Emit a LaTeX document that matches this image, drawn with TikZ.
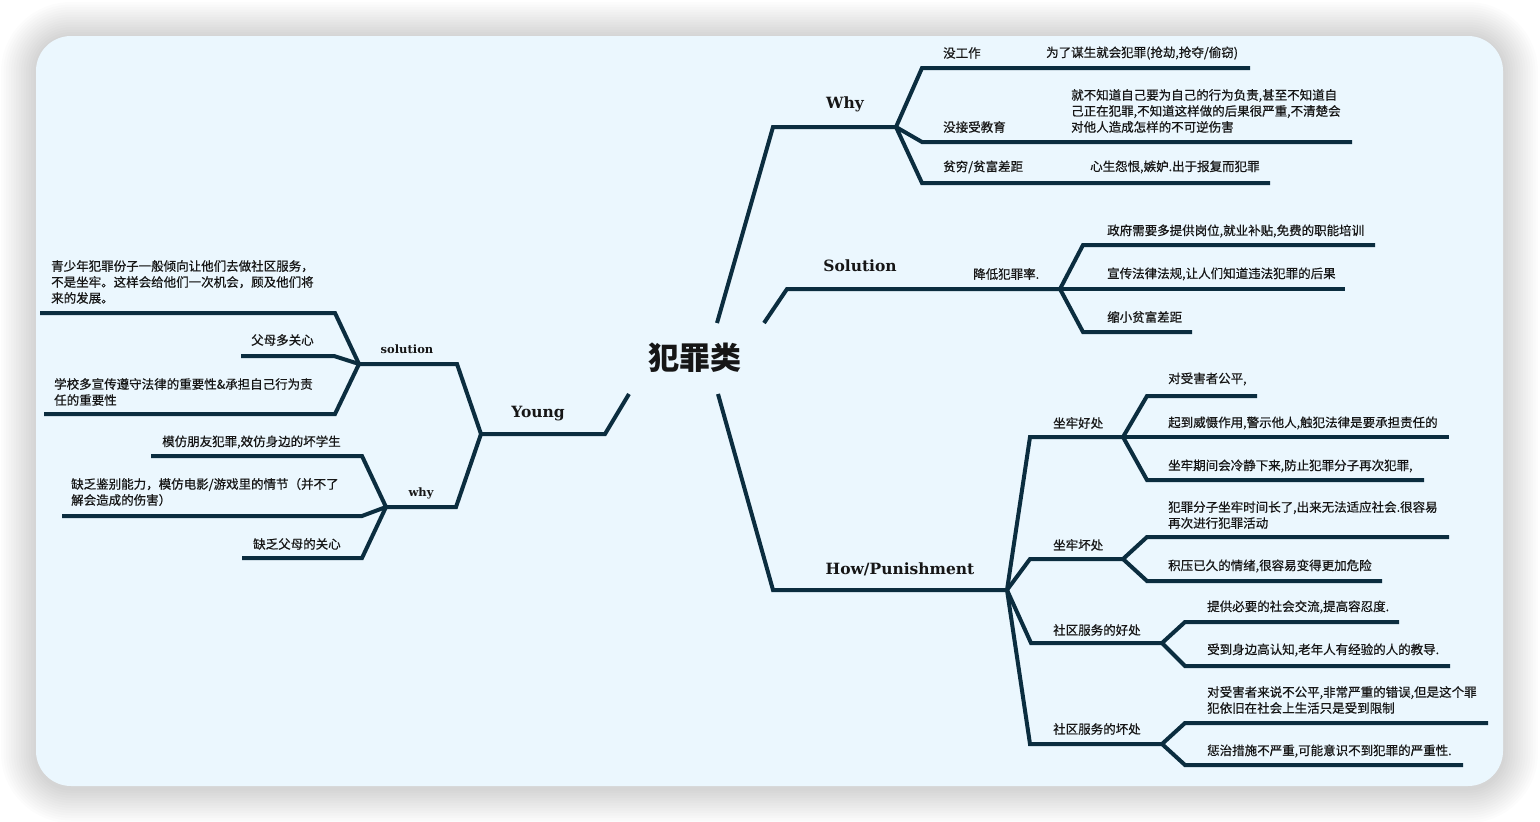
\documentclass[tikz,border=0pt]{standalone}
\usepackage{fontspec}
\newfontfamily\cjk{Noto Sans CJK SC}
\newfontfamily\cjkleaf{Noto Sans CJK SC}[FakeBold=0.6]
\newfontfamily\slab{DejaVu Serif}
\definecolor{inkline}{HTML}{0B2D3F}
\definecolor{inktext}{HTML}{161616}
\definecolor{cardbg}{HTML}{EBF7FE}

\begin{document}
\begin{tikzpicture}[x=1pt, y=-1pt,
	 branch/.style={draw=inkline, line width=4pt},
	 leaf/.style={anchor=west, align=left, inner sep=0pt, text=inktext,
	   font=\cjkleaf\fontsize{12.5}{16}\selectfont},
	 topic/.style={inner sep=0pt, text=inktext, font=\slab\bfseries\fontsize{15.5}{17}\selectfont},
	 subtopic/.style={inner sep=0pt, text=inktext, font=\slab\bfseries\fontsize{11.5}{14}\selectfont}]
	    \useasboundingbox (0,0) rectangle (1540,822);
	    \fill[white] (0,0) rectangle (1540,822);
	    \foreach \s in {1,...,14}
	        \fill[black, opacity=0.013, rounded corners=35+\s*2.5] (36-\s*2.5,37-\s*2.5) rectangle (1503+\s*2.5,788+\s*2.5);
	    \fill[cardbg, rounded corners=35] (36,36) rectangle (1503,786);

	    \node (crime) at (695,358) [inner sep=0pt, text=inktext, font=\cjk\bfseries\fontsize{31}{31}\selectfont] {犯罪类};

	    \coordinate (why-root) at (717,323);
	    \coordinate (sol-root) at (764,323);
	    \coordinate (how-root) at (718,394);
	    \coordinate (young-root) at (629,394);
	    \coordinate (why-j) at (896,127);
	    \coordinate (sol-j) at (1060,289);
	    \coordinate (how-j) at (1007,590);
	    \coordinate (young-j) at (481,434);
	    \draw[branch] (why-root) -- ++(56,-196) -- (why-j);
	    \draw[branch] (sol-root) -- ++(23,-34) -- (sol-j);
	    \draw[branch] (how-root) -- ++(55,196) -- (how-j);
	    \draw[branch] (young-root) -- ++(-24,40) -- (young-j);

	    \node (why) at (845,104) [topic] {Why};
	    \coordinate (nowork-end) at (1250,68);
	    \coordinate (noedu-end) at (1352,142);
	    \coordinate (poor-end) at (1270,183);
	    \draw[branch] (why-j) -- ++(26,-59) -- (nowork-end);
	    \draw[branch] (why-j) -- ++(26,15) -- (noedu-end);
	    \draw[branch] (why-j) -- ++(26,56) -- (poor-end);
	    \node (nowork) at (943,53) [leaf] {没工作};
	    \node (nowork-txt) at (1046,53) [leaf] {为了谋生就会犯罪(抢劫,抢夺/偷窃)};
	    \node (noedu) at (943,127) [leaf] {没接受教育};
	    \node (noedu-txt) at (1071,111) [leaf] {就不知道自己要为自己的行为负责,甚至不知道自\\己正在犯罪,不知道这样做的后果很严重,不清楚会\\对他人造成怎样的不可逆伤害};
	    \node (poor) at (943,167) [leaf] {贫穷/贫富差距};
	    \node (poor-txt) at (1090,167) [leaf] {心生怨恨,嫉妒.出于报复而犯罪};

	    \node (sol) at (860,266) [topic] {Solution};
	    \node (lower) at (973,274) [leaf] {降低犯罪率.};
	    \coordinate (jobs-end) at (1375,245);
	    \coordinate (law-end) at (1345,289);
	    \coordinate (gap-end) at (1192,332);
	    \draw[branch] (sol-j) -- ++(23,-44) -- (jobs-end);
	    \draw[branch] (sol-j) -- (law-end);
	    \draw[branch] (sol-j) -- ++(23,43) -- (gap-end);
	    \node (jobs) at (1107,231) [leaf] {政府需要多提供岗位,就业补贴,免费的职能培训};
	    \node (law) at (1107,274) [leaf] {宣传法律法规,让人们知道违法犯罪的后果};
	    \node (gap) at (1107,317) [leaf] {缩小贫富差距};

	    \node (how) at (900,569) [topic] {How/Punishment};
	    \coordinate (jailgood-j) at (1123,437);
	    \coordinate (jailbad-j) at (1123,559);
	    \coordinate (commgood-j) at (1162,643);
	    \coordinate (commbad-j) at (1162,744);
	    \draw[branch] (how-j) -- ++(23,-153) -- (jailgood-j);
	    \draw[branch] (how-j) -- ++(23,-31) -- (jailbad-j);
	    \draw[branch] (how-j) -- ++(24,53) -- (commgood-j);
	    \draw[branch] (how-j) -- ++(23,154) -- (commbad-j);
	    \node (jailgood) at (1053,423) [leaf] {坐牢好处};
	    \node (jailbad) at (1053,545) [leaf] {坐牢坏处};
	    \node (commgood) at (1053,630) [leaf] {社区服务的好处};
	    \node (commbad) at (1053,729) [leaf] {社区服务的坏处};

	    \coordinate (fair-end) at (1257,396);
	    \coordinate (deter-end) at (1449,437);
	    \coordinate (calm-end) at (1424,480);
	    \draw[branch] (jailgood-j) -- ++(24,-41) -- (fair-end);
	    \draw[branch] (jailgood-j) -- (deter-end);
	    \draw[branch] (jailgood-j) -- ++(24,43) -- (calm-end);
	    \node (fair) at (1168,379) [leaf] {对受害者公平,};
	    \node (deter) at (1168,423) [leaf] {起到威慑作用,警示他人,触犯法律是要承担责任的};
	    \node (calm) at (1168,466) [leaf] {坐牢期间会冷静下来,防止犯罪分子再次犯罪,};

	    \coordinate (adapt-end) at (1449,537);
	    \coordinate (anger-end) at (1382,581);
	    \draw[branch] (jailbad-j) -- ++(24,-22) -- (adapt-end);
	    \draw[branch] (jailbad-j) -- ++(24,22) -- (anger-end);
	    \node (adapt) at (1168,515) [leaf] {犯罪分子坐牢时间长了,出来无法适应社会.很容易\\再次进行犯罪活动};
	    \node (anger) at (1168,566) [leaf] {积压已久的情绪,很容易变得更加危险};

	    \coordinate (social-end) at (1399,622);
	    \coordinate (elder-end) at (1450,666);
	    \draw[branch] (commgood-j) -- ++(23,-21) -- (social-end);
	    \draw[branch] (commgood-j) -- ++(23,23) -- (elder-end);
	    \node (social) at (1207,607) [leaf] {提供必要的社会交流,提高容忍度.};
	    \node (elder) at (1207,650) [leaf] {受到身边高认知,老年人有经验的人的教导.};

	    \coordinate (unfair-end) at (1488,723);
	    \coordinate (light-end) at (1463,765);
	    \draw[branch] (commbad-j) -- ++(23,-21) -- (unfair-end);
	    \draw[branch] (commbad-j) -- ++(23,21) -- (light-end);
	    \node (unfair) at (1207,700) [leaf] {对受害者来说不公平,非常严重的错误,但是这个罪\\犯依旧在社会上生活只是受到限制};
	    \node (light) at (1207,751) [leaf] {惩治措施不严重,可能意识不到犯罪的严重性.};

	    \node (young) at (538,414) [topic] {Young};
	    \coordinate (ysol-j) at (359,364);
	    \coordinate (ywhy-j) at (386,507);
	    \draw[branch] (young-j) -- ++(-24,-70) -- (ysol-j);
	    \draw[branch] (young-j) -- ++(-25,73) -- (ywhy-j);
	    \node (ysol) at (407,349) [subtopic] {solution};
	    \node (ywhy) at (421,493) [subtopic] {why};

	    \coordinate (service-end) at (40,313);
	    \coordinate (care-end) at (241,356);
	    \coordinate (school-end) at (44,414);
	    \draw[branch] (ysol-j) -- ++(-24,-51) -- (service-end);
	    \draw[branch] (ysol-j) -- ++(-25,-8) -- (care-end);
	    \draw[branch] (ysol-j) -- ++(-24,50) -- (school-end);
	    \node (service) at (51,282) [leaf] {青少年犯罪份子一般倾向让他们去做社区服务，\\不是坐牢。这样会给他们一次机会，顾及他们将\\来的发展。};
	    \node (care) at (251,340) [leaf] {父母多关心};
	    \node (school) at (54,392) [leaf] {学校多宣传遵守法律的重要性\&承担自己行为责\\任的重要性};

	    \coordinate (imitate-end) at (151,456);
	    \coordinate (judge-end) at (62,516);
	    \coordinate (parent-end) at (242,558);
	    \draw[branch] (ywhy-j) -- ++(-24,-51) -- (imitate-end);
	    \draw[branch] (ywhy-j) -- ++(-24,9) -- (judge-end);
	    \draw[branch] (ywhy-j) -- ++(-24,51) -- (parent-end);
	    \node (imitate) at (162,442) [leaf] {模仿朋友犯罪,效仿身边的坏学生};
	    \node (judge) at (71,492) [leaf] {缺乏鉴别能力，模仿电影/游戏里的情节（并不了\\解会造成的伤害）};
	    \node (parent) at (253,544) [leaf] {缺乏父母的关心};
	 \end{tikzpicture}
\end{document}
